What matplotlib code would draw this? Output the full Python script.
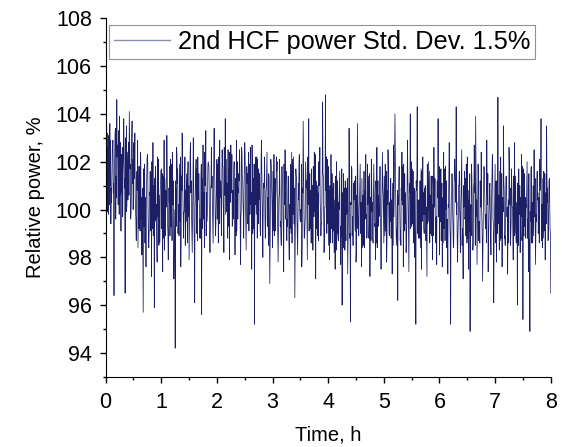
import numpy as np
import matplotlib
matplotlib.use('Agg')
import matplotlib.pyplot as plt
from matplotlib.ticker import MultipleLocator

plt.rcParams['font.family'] = ['Liberation Sans', 'DejaVu Sans']

# relative power readings (values in %)
# per hour: "a" = the spiky samples, "b", "c", "d" = the samples in between
hour0_a = [100.5, 103.2, 99.8, 103.6, 100.9, 102.8, 96.4, 103.4, 104.6, 100.2,
           103.9, 99.1, 102.6, 103.8, 96.5, 103.5, 100.4, 104.1, 99.6, 103.7,
           100.8, 103.2, 98.7, 102.9, 99.2, 102.4, 98.1, 95.7, 101.9, 97.6,
           102.3, 98.4, 101.6, 97.2, 102.8, 95.9, 101.4, 97.8, 102.1, 98.6]
hour0_b = [101.8, 102.4, 101.1, 102.9, 101.6, 100.7, 102.2, 101.4, 102.7, 101.9,
           100.6, 102.3, 101.5, 100.9, 102.6, 101.2, 102.8, 101.7, 100.8, 102.1,
           101.3, 99.9, 101.6, 100.4, 101.8, 99.6, 100.9, 99.3, 100.5, 101.2,
           99.8, 100.7, 99.1, 100.3, 101.0, 99.5, 100.2, 99.7, 100.6, 101.1]
hour0_c = [102.4, 99.9, 103.1, 101.0, 100.3, 102.9, 101.8, 99.6, 102.2, 103.3,
           100.8, 101.5, 99.7, 102.6, 103.0, 100.1, 101.3, 102.7, 99.9, 101.1,
           102.8, 100.6, 101.2, 98.4, 100.9, 102.1, 99.3, 101.7, 98.6, 100.4,
           101.9, 99.0, 100.6, 102.0, 98.9, 101.3, 99.6, 102.2, 98.5, 100.8]
hour0_d = [100.9, 102.6, 100.2, 99.4, 102.5, 101.1, 103.2, 100.5, 101.7, 99.8,
           102.8, 100.7, 102.1, 101.3, 99.9, 102.4, 100.6, 101.9, 103.0, 100.0,
           101.6, 99.5, 100.8, 101.8, 99.1, 100.5, 98.3, 101.4, 99.7, 102.1,
           98.9, 100.6, 101.5, 99.2, 100.1, 101.8, 98.7, 100.4, 99.5, 101.6]

hour1_a = [101.7, 97.4, 102.9, 98.9, 103.1, 97.9, 101.8, 99.3, 102.4, 97.1,
           94.2, 102.6, 99.0, 101.9, 97.6, 103.2, 98.8, 102.2, 99.5, 101.4,
           97.9, 102.8, 99.1, 103.0, 96.1, 102.1, 98.7, 101.5, 99.6, 95.6,
           102.7, 98.4, 103.3, 99.8, 101.9, 98.2, 102.6, 99.4, 103.4, 98.9]
hour1_b = [99.6, 100.8, 101.3, 100.1, 99.4, 100.9, 101.6, 99.8, 100.4, 99.2,
           100.7, 101.1, 100.2, 99.5, 101.4, 100.6, 99.9, 100.8, 101.5, 99.7,
           100.3, 101.2, 100.0, 99.4, 100.9, 101.7, 100.5, 99.9, 101.3, 100.2,
           99.6, 101.0, 100.7, 101.8, 100.3, 100.9, 101.4, 100.6, 101.1, 100.4]
hour1_c = [99.2, 101.4, 98.3, 100.8, 102.1, 99.6, 98.9, 101.9, 100.2, 98.4,
           101.2, 102.3, 99.5, 100.6, 98.7, 101.6, 99.9, 98.5, 101.1, 102.0,
           99.3, 100.7, 98.2, 101.5, 100.1, 99.0, 102.2, 100.4, 98.8, 101.3,
           99.7, 102.4, 98.9, 100.5, 101.8, 99.1, 100.9, 98.6, 101.7, 99.4]
hour1_d = [101.5, 98.8, 100.6, 101.9, 99.0, 100.3, 102.1, 98.7, 101.2, 100.0,
           99.3, 101.7, 98.9, 102.2, 100.8, 99.5, 101.3, 100.1, 98.6, 101.0,
           102.4, 99.8, 100.9, 98.5, 101.6, 99.9, 100.4, 98.8, 101.9, 99.2,
           100.7, 101.4, 99.5, 102.0, 98.9, 101.1, 100.2, 102.3, 99.7, 101.0]

hour2_a = [102.1, 98.6, 102.9, 99.7, 101.8, 98.2, 103.8, 99.9, 102.5, 97.9,
           102.7, 99.3, 101.6, 98.1, 102.9, 99.6, 101.2, 97.7, 102.4, 99.8,
           102.8, 98.3, 101.5, 99.1, 102.6, 97.5, 101.3, 95.2, 102.2, 98.8,
           101.7, 99.4, 102.9, 98.0, 101.1, 99.2, 102.4, 98.5, 96.9, 101.8]
hour2_b = [100.5, 101.7, 100.9, 101.3, 100.2, 101.9, 101.0, 100.6, 101.5, 100.3,
           101.2, 100.8, 102.0, 100.4, 101.1, 100.7, 101.6, 100.1, 101.3, 100.9,
           100.5, 101.8, 100.2, 101.0, 100.6, 101.4, 99.9, 100.8, 101.2, 100.3,
           101.5, 100.0, 100.7, 101.1, 99.8, 100.9, 100.4, 101.3, 100.1, 100.6]
hour2_c = [99.6, 102.2, 100.5, 98.9, 101.8, 102.6, 99.8, 101.1, 99.3, 102.4,
           100.7, 99.5, 102.0, 101.3, 99.1, 100.9, 102.5, 99.7, 101.4, 98.8,
           102.3, 100.6, 99.4, 101.9, 100.2, 102.7, 99.2, 101.0, 99.8, 102.1,
           100.4, 98.9, 101.6, 99.9, 102.2, 100.8, 99.3, 101.5, 98.7, 101.2]
hour2_d = [101.9, 99.4, 101.2, 102.5, 99.9, 100.6, 102.1, 98.8, 101.7, 100.4,
           102.3, 99.6, 100.8, 98.9, 102.0, 101.5, 99.2, 102.6, 100.3, 101.8,
           99.5, 101.1, 102.4, 99.8, 100.7, 99.0, 101.9, 100.2, 102.2, 99.4,
           101.3, 102.0, 99.7, 100.9, 98.8, 101.6, 100.5, 99.3, 102.1, 99.9]

hour3_a = [98.4, 102.3, 99.1, 101.6, 97.8, 102.1, 98.9, 101.2, 97.4, 102.5,
           99.3, 100.8, 97.9, 101.9, 98.6, 102.2, 96.3, 101.4, 98.1, 102.0,
           99.5, 97.6, 103.7, 98.8, 101.5, 97.9, 103.8, 99.2, 101.7, 98.3,
           102.4, 97.1, 101.0, 98.7, 102.6, 99.4, 104.5, 98.2, 104.8, 99.0]
hour3_b = [100.3, 99.5, 100.8, 99.9, 100.5, 99.3, 100.9, 99.7, 100.2, 101.0,
           99.6, 100.4, 99.2, 100.7, 100.1, 99.4, 100.6, 99.8, 101.1, 100.0,
           99.5, 100.9, 100.3, 99.7, 101.2, 100.4, 99.9, 100.8, 99.6, 101.3,
           100.2, 99.4, 100.7, 101.0, 99.8, 100.5, 101.4, 100.1, 100.9, 100.3]
hour3_c = [101.6, 98.9, 100.4, 102.0, 99.2, 101.1, 98.5, 100.8, 101.9, 99.6,
           98.7, 101.4, 100.2, 99.0, 102.1, 100.6, 98.8, 101.3, 99.7, 102.3,
           100.0, 98.4, 101.7, 99.3, 100.9, 102.2, 99.1, 100.5, 98.6, 101.8,
           99.9, 101.2, 98.9, 102.0, 100.3, 99.4, 101.5, 98.7, 100.8, 102.1]
hour3_d = [99.1, 101.3, 102.2, 98.8, 100.6, 99.5, 101.8, 99.0, 100.3, 101.6,
           99.3, 98.6, 101.1, 102.4, 99.8, 100.9, 101.7, 98.9, 100.4, 99.6,
           101.9, 100.7, 98.8, 102.0, 99.4, 100.2, 101.5, 98.6, 101.0, 99.7,
           102.3, 99.2, 100.6, 101.3, 98.9, 101.8, 99.5, 100.1, 102.2, 99.4]

hour4_a = [101.8, 97.9, 102.3, 98.6, 101.1, 97.5, 102.0, 98.9, 100.7, 97.7,
           96.0, 101.5, 98.3, 100.9, 97.3, 103.4, 95.3, 101.7, 98.5, 101.2,
           97.8, 103.6, 98.9, 101.9, 97.6, 100.6, 98.4, 102.3, 99.0, 101.4,
           97.2, 102.1, 98.8, 100.9, 97.9, 102.6, 99.3, 101.0, 97.5, 102.4]
hour4_b = [99.7, 100.4, 99.2, 100.6, 99.5, 100.1, 99.0, 100.3, 99.4, 98.9,
           99.8, 100.5, 99.3, 100.0, 99.6, 98.8, 100.2, 99.7, 100.4, 99.1,
           100.6, 99.9, 100.3, 99.2, 100.0, 99.5, 100.7, 99.8, 100.2, 99.4,
           100.5, 99.9, 100.1, 99.3, 100.8, 100.2, 99.7, 100.4, 99.9, 100.6]
hour4_c = [98.5, 101.0, 99.6, 100.9, 98.2, 101.4, 99.9, 98.7, 101.6, 99.3,
           100.7, 98.4, 101.2, 99.8, 98.6, 101.5, 100.3, 98.9, 101.1, 99.4,
           98.3, 101.7, 100.1, 99.0, 101.3, 98.5, 100.8, 99.7, 101.9, 98.8,
           100.2, 101.4, 98.6, 99.9, 101.2, 98.4, 100.6, 101.8, 99.2, 100.9]
hour4_d = [100.8, 98.6, 101.5, 99.1, 100.4, 98.3, 101.2, 100.0, 98.8, 101.7,
           99.5, 100.9, 98.7, 101.3, 100.1, 99.0, 101.8, 98.5, 100.6, 101.4,
           99.2, 98.9, 101.1, 100.3, 98.4, 101.6, 99.6, 98.8, 100.9, 101.5,
           98.7, 100.3, 101.9, 99.4, 98.6, 101.2, 99.8, 98.9, 101.0, 99.5]

hour5_a = [98.6, 101.9, 97.8, 102.5, 98.9, 101.3, 97.3, 102.7, 104.0, 98.5,
           96.2, 101.8, 99.1, 102.4, 97.6, 101.5, 98.2, 102.9, 97.4, 104.0,
           99.3, 101.6, 98.0, 95.2, 104.3, 98.8, 101.2, 97.5, 102.2, 99.0,
           100.8, 97.2, 102.0, 98.6, 101.4, 97.9, 102.6, 99.4, 97.7, 103.8]
hour5_b = [100.2, 99.6, 100.8, 100.1, 99.5, 100.4, 99.9, 101.0, 100.5, 99.3,
           100.2, 99.8, 100.9, 100.3, 99.6, 100.7, 99.4, 100.5, 101.1, 100.0,
           99.7, 100.6, 99.2, 100.8, 100.4, 99.9, 100.3, 99.5, 100.7, 99.8,
           100.1, 99.4, 100.6, 100.0, 99.7, 100.9, 100.2, 99.6, 100.8, 100.3]
hour5_c = [101.4, 99.1, 98.6, 101.8, 100.3, 98.8, 101.1, 99.7, 102.0, 98.9,
           100.6, 101.5, 98.5, 100.2, 101.9, 99.4, 98.7, 101.3, 100.0, 99.2,
           101.7, 98.6, 100.8, 101.2, 99.0, 100.4, 98.4, 101.6, 99.8, 100.9,
           98.7, 101.9, 99.5, 100.6, 98.9, 101.4, 100.1, 98.6, 101.2, 99.7]
hour5_d = [98.9, 101.6, 100.2, 99.0, 101.3, 99.6, 98.5, 101.9, 99.3, 100.8,
           101.5, 98.7, 100.4, 101.8, 99.1, 100.0, 101.4, 98.8, 100.7, 102.0,
           99.4, 100.9, 98.6, 101.2, 99.9, 98.8, 101.7, 100.3, 99.2, 101.0,
           98.5, 100.6, 101.6, 99.0, 100.2, 98.9, 101.3, 99.7, 100.5, 101.8]

hour6_a = [98.1, 101.7, 97.6, 102.4, 98.7, 101.2, 97.3, 102.8, 95.2, 101.5,
           98.4, 102.1, 104.3, 97.8, 101.0, 98.2, 102.5, 97.1, 101.6, 98.9,
           102.2, 97.5, 94.9, 101.9, 98.3, 102.7, 103.9, 97.7, 101.3, 98.6,
           102.4, 97.0, 101.8, 99.2, 102.9, 97.4, 100.9, 98.1, 102.3, 96.1]
hour6_b = [99.9, 100.5, 99.4, 100.2, 100.7, 99.6, 100.1, 99.3, 100.4, 99.8,
           100.9, 101.2, 100.3, 99.5, 100.0, 100.6, 99.2, 100.1, 99.7, 100.5,
           99.8, 99.1, 100.2, 100.6, 100.9, 101.1, 99.7, 100.3, 99.5, 100.4,
           99.6, 100.0, 100.7, 99.8, 100.2, 99.3, 99.9, 100.5, 99.6, 99.4]
hour6_c = [101.3, 98.7, 100.5, 99.2, 101.8, 98.4, 100.2, 101.5, 99.0, 100.9,
           98.6, 101.2, 99.8, 98.9, 101.6, 100.1, 98.5, 101.0, 99.6, 101.9,
           98.8, 100.4, 99.3, 101.4, 98.6, 100.7, 101.7, 99.1, 98.7, 101.2,
           100.0, 98.5, 101.5, 99.4, 100.8, 98.9, 101.1, 99.7, 101.6, 98.8]
hour6_d = [99.5, 101.1, 98.6, 101.7, 100.0, 99.3, 101.4, 98.8, 100.6, 99.2,
           101.8, 100.3, 98.7, 101.0, 99.5, 101.6, 98.9, 100.2, 101.3, 98.6,
           100.8, 101.5, 98.9, 99.7, 101.1, 98.5, 100.4, 101.9, 99.3, 100.1,
           98.8, 101.2, 99.9, 98.6, 101.5, 100.0, 98.9, 101.3, 99.4, 100.6]

hour7_a = [101.9, 97.8, 104.7, 98.3, 102.2, 97.6, 103.5, 98.9, 101.4, 97.3,
           102.6, 98.5, 101.1, 97.9, 102.8, 98.7, 96.0, 101.7, 98.2, 102.3,
           95.4, 101.5, 98.8, 102.0, 97.4, 94.9, 101.8, 98.6, 102.5, 97.7,
           101.2, 99.0, 102.1, 103.8, 98.4, 101.6, 97.9, 103.5, 98.7, 101.3,
           96.5]
hour7_b = [100.3, 101.2, 100.6, 100.0, 99.6, 100.5, 100.8, 99.9, 99.7, 100.4,
           100.2, 99.5, 100.1, 100.6, 100.3, 98.9, 99.4, 100.2, 99.9, 99.1,
           99.0, 100.4, 100.1, 99.6, 98.8, 99.5, 100.3, 100.0, 99.7, 99.8,
           100.4, 100.5, 101.6, 100.2, 100.0, 99.6, 100.7, 100.3, 99.9, 99.2]
hour7_c = [98.6, 100.9, 99.4, 101.6, 98.8, 100.3, 101.2, 98.5, 100.7, 99.6,
           101.8, 98.9, 100.1, 101.4, 99.0, 98.6, 101.1, 99.8, 100.5, 98.7,
           101.7, 99.3, 100.2, 98.8, 101.5, 99.9, 98.6, 101.0, 100.4, 98.9,
           101.6, 99.5, 100.8, 98.7, 101.3, 99.1, 100.6, 101.5, 98.8, 100.2]
hour7_d = [101.2, 99.0, 100.6, 98.7, 101.5, 99.9, 98.8, 101.3, 100.1, 98.6,
           100.9, 101.7, 99.2, 98.9, 101.4, 100.3, 98.5, 101.0, 99.7, 101.8,
           98.9, 100.5, 101.2, 99.3, 98.7, 101.6, 100.0, 98.9, 101.3, 99.5,
           100.7, 98.6, 101.1, 100.2, 98.8, 101.5, 99.4, 100.9, 101.2, 99.0]

hours = [
    (hour0_a, hour0_c, hour0_b, hour0_d),
    (hour1_a, hour1_c, hour1_b, hour1_d),
    (hour2_a, hour2_c, hour2_b, hour2_d),
    (hour3_a, hour3_c, hour3_b, hour3_d),
    (hour4_a, hour4_c, hour4_b, hour4_d),
    (hour5_a, hour5_c, hour5_b, hour5_d),
    (hour6_a, hour6_c, hour6_b, hour6_d),
    (hour7_a, hour7_c, hour7_b, hour7_d),
]

# interleave the sample lists into one time series
power = []
for a, c, b, d in hours:
    for i in range(len(b)):
        power += [a[i], c[i], b[i], d[i]]
    power += a[len(b):]
power = np.array(power)
time_h = np.linspace(0, 8, len(power))

fig = plt.figure(figsize=(5.62, 4.47), dpi=100)
ax = fig.add_axes([0.188, 0.157, 0.792, 0.802])

ax.plot(time_h, power, color='#1c1f66', linewidth=0.55,
        label='2nd HCF power Std. Dev. 1.5%')

ax.set_xlim(0, 8)
ax.set_ylim(93, 108)
ax.xaxis.set_major_locator(MultipleLocator(1))
ax.xaxis.set_minor_locator(MultipleLocator(0.5))
ax.yaxis.set_minor_locator(MultipleLocator(1))
ax.set_yticks([94, 96, 98, 100, 102, 104, 106, 108])
ax.tick_params(which='major', direction='out', length=4, width=1, labelsize=15.5)
ax.tick_params(axis='y', which='major', pad=6)
ax.tick_params(axis='x', which='major', pad=7)
ax.tick_params(which='minor', direction='out', length=2.5, width=1)
ax.spines['top'].set_visible(False)
ax.spines['right'].set_visible(False)

ax.set_xlabel('Time, h', fontsize=14.5, labelpad=9)
ax.set_ylabel('Relative power, %', fontsize=14.5, labelpad=8)

leg = ax.legend(loc='upper left', bbox_to_anchor=(0.0074, 0.981), borderaxespad=0,
                fontsize=18.3, frameon=True, fancybox=False, handlelength=2.2,
                handletextpad=0.3, borderpad=0.2)
leg.get_frame().set_edgecolor('#777777')
leg.get_frame().set_linewidth(0.8)
leg.get_lines()[0].set_color('#8a90b4')
leg.get_lines()[0].set_linewidth(1.0)

fig.savefig('out.png', dpi=100)
